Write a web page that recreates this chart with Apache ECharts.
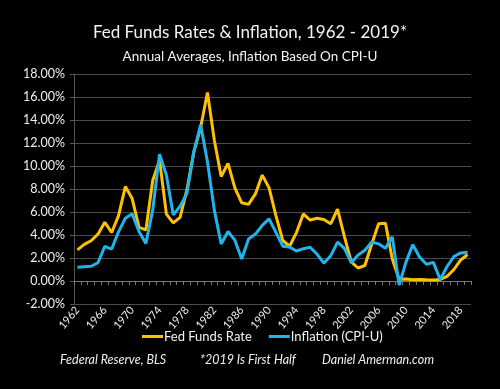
<!DOCTYPE html>
<html><head><meta charset="utf-8">
<script src="https://cdn.jsdelivr.net/npm/echarts@6/dist/echarts.min.js"></script>
<style>html,body{margin:0;padding:0;background:#000;}#c{width:500px;height:389px;}</style>
</head><body><div id="c"></div>
<script>
var years = [];
for (var y = 1962; y <= 2019; y++) years.push(String(y));
var fedFunds = [2.71,3.18,3.50,4.07,5.11,4.22,5.66,8.21,7.17,4.67,4.44,8.74,10.51,5.82,5.05,5.54,7.94,11.20,13.35,16.39,12.24,9.09,10.23,8.10,6.80,6.66,7.57,9.21,8.10,5.69,3.52,3.02,4.21,5.83,5.30,5.46,5.35,4.97,6.24,3.88,1.67,1.13,1.35,3.22,4.97,5.02,1.92,0.16,0.18,0.10,0.14,0.11,0.09,0.13,0.40,1.00,1.83,2.30];
var inflation = [1.2,1.24,1.28,1.59,3.01,2.78,4.27,5.46,5.84,4.30,3.27,6.16,11.03,9.20,5.75,6.50,7.62,11.22,13.58,10.35,6.16,3.22,4.30,3.55,1.91,3.66,4.08,4.83,5.40,4.23,3.03,2.95,2.61,2.81,2.93,2.34,1.55,2.19,3.38,2.83,1.59,2.27,2.68,3.39,3.23,2.85,3.84,-0.36,1.64,3.16,2.07,1.46,1.62,0.12,1.26,2.13,2.44,2.50];
var yTicks = {min: -2, max: 18, interval: 2};
var chart = echarts.init(document.getElementById('c'), null, {renderer: 'canvas'});
var font = 'Lato, "Open Sans", sans-serif';
chart.setOption({
  backgroundColor: '#000',
  animation: false,
  title: [
    {text: 'Fed Funds Rates & Inflation, 1962 - 2019*', left: 'center', top: 19,
     textStyle: {color: '#f2f2f2', fontSize: 17, fontWeight: 'normal', fontFamily: font}},
    {text: 'Annual Averages, Inflation Based On CPI-U', left: 'center', top: 45,
     textStyle: {color: '#f2f2f2', fontSize: 13.5, fontWeight: 'normal', fontFamily: font}}
  ],
  graphic: [
    {type: 'text', left: 60, top: 353, style: {text: 'Federal Reserve, BLS', fill: '#eee', font: 'italic 12.5px ' + font}},
    {type: 'text', left: 200, top: 353, style: {text: '*2019 Is First Half', fill: '#eee', font: 'italic 12.5px ' + font}},
    {type: 'text', left: 322, top: 353, style: {text: 'Daniel Amerman.com', fill: '#eee', font: 'italic 12.5px ' + font}}
  ],
  legend: {
    top: 325, left: 137, itemWidth: 21, itemHeight: 3, itemGap: 17,
    icon: 'rect',
    textStyle: {color: '#f2f2f2', fontSize: 13, fontFamily: font, padding: [0,0,0,-4]},
    data: ['Fed Funds Rate', 'Inflation (CPI-U)']
  },
  grid: {left: 74, right: 29, top: 74, bottom: 85},
  xAxis: {
    type: 'category', data: years, boundaryGap: true,
    axisLine: {onZero: true, lineStyle: {color: '#777', width: 1}},
    axisTick: {show: true, interval: 0, length: 4, lineStyle: {color: '#777'}},
    axisLabel: {interval: 3, rotate: 50, color: '#eee', fontSize: 11, fontFamily: font, margin: 4},
    splitLine: {show: false}
  },
  yAxis: {
    type: 'value', min: yTicks.min, max: yTicks.max, interval: yTicks.interval,
    axisLine: {show: true, lineStyle: {color: '#555'}},
    axisTick: {show: true, length: 4, lineStyle: {color: '#555'}},
    axisLabel: {color: '#eee', fontSize: 12.5, fontFamily: font, margin: 9,
      formatter: function (v) { return v.toFixed(2) + '%'; }},
    splitLine: {lineStyle: {color: '#4a4a4a', width: 1}}
  },
  series: [
    {name: 'Fed Funds Rate', type: 'line', data: fedFunds, symbol: 'none',
     lineStyle: {color: '#FFC000', width: 3}, itemStyle: {color: '#FFC000'}},
    {name: 'Inflation (CPI-U)', type: 'line', data: inflation, symbol: 'none',
     lineStyle: {color: '#1FB5EC', width: 3}, itemStyle: {color: '#1FB5EC'}}
  ]
});
</script></body></html>
